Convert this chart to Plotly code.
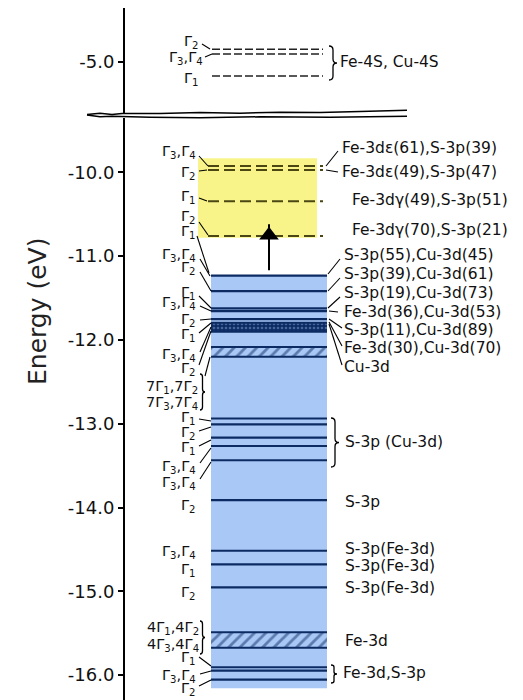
import plotly.graph_objects as go

W, H = 523, 700

# ---------------- data (energies in eV) ----------------
tick_vals_low = [-10, -11, -12, -13, -14, -15, -16]
tick_text_low = ["-10.0", "-11.0", "-12.0", "-13.0", "-14.0", "-15.0", "-16.0"]
tick_vals_top = [-5]
tick_text_top = ["-5.0"]

# Fe-4S, Cu-4S levels (dashed, upper panel)
top_levels = [-4.852, -4.908, -5.171]
# highlighted (yellow) unoccupied levels, dashed
yellow_levels = [-9.924, -9.972, -10.344, -10.760]
yellow_band = [-9.832, -10.780]
# occupied levels (blue block), solid
blue_levels = [-11.233, -11.419, -11.624, -11.656, -11.751,
               -12.938, -13.008, -13.165, -13.266, -13.436, -13.912,
               -14.516, -14.679, -14.953,
               -15.906, -15.947, -16.053]
blue_band = [-11.226, -16.156]
dense_band = [-11.795, -11.902]
hatch_bottoms = [-12.201, -15.673]
hatch_tops = [-12.085, -15.489]
arrow_from = -11.17
arrow_to = -10.78

right_top = ["Fe-4S, Cu-4S"]
right_yellow = ["Fe-3dε(61),S-3p(39)", "Fe-3dε(49),S-3p(47)",
                "Fe-3dγ(49),S-3p(51)", "Fe-3dγ(70),S-3p(21)"]
right_blue = ["S-3p(55),Cu-3d(45)", "S-3p(39),Cu-3d(61)", "S-3p(19),Cu-3d(73)",
              "Fe-3d(36),Cu-3d(53)", "S-3p(11),Cu-3d(89)", "Fe-3d(30),Cu-3d(70)",
              "Cu-3d"]
right_low = ["S-3p (Cu-3d)", "S-3p", "S-3p(Fe-3d)", "S-3p(Fe-3d)", "S-3p(Fe-3d)",
             "Fe-3d", "Fe-3d,S-3p"]

G = lambda s: s.replace("Γ1", "Γ<sub>1</sub>").replace("Γ2", "Γ<sub>2</sub>") \
               .replace("Γ3", "Γ<sub>3</sub>").replace("Γ4", "Γ<sub>4</sub>")
left_top = ["Γ2", "Γ3,Γ4", "Γ1"]
left_main = ["Γ3,Γ4", "Γ2", "Γ1", "Γ2", "Γ1",
             "Γ3,Γ4", "Γ2", "Γ1", "Γ3,Γ4", "Γ2", "Γ1", "Γ3,Γ4", "Γ2",
             "7Γ1,7Γ2", "7Γ3,7Γ4",
             "Γ1", "Γ2", "Γ1", "Γ3,Γ4", "Γ3,Γ4", "Γ2",
             "Γ3,Γ4", "Γ1", "Γ2", "4Γ1,4Γ2", "4Γ3,4Γ4",
             "Γ1", "Γ3,Γ4", "Γ2"]

# ---------------- layout helpers (pixel rows -> paper) ----------------
def P(ypx):
    return 1 - ypx / H

NAVY = "#0d2b63"
BLUE = "#a9c8f6"
YELLOW = "#f8f48a"
OLIVE = "#4a4714"
FONT = "DejaVu Sans"

fig = go.Figure()

def hlines(levels, x0, x1, yaxis, color, width, dash=None):
    xs, ys = [], []
    for e in levels:
        xs += [x0, x1, None]
        ys += [e, e, None]
    fig.add_trace(go.Scatter(x=xs, y=ys, mode="lines", yaxis=yaxis,
                             line=dict(color=color, width=width, dash=dash),
                             hoverinfo="skip"))

# background blocks
shapes = []
shapes.append(dict(type="rect", xref="x", yref="y", x0=198, x1=317,
                   y0=yellow_band[1], y1=yellow_band[0],
                   fillcolor=YELLOW, line=dict(width=0), layer="below"))
shapes.append(dict(type="rect", xref="x", yref="y", x0=211, x1=327,
                   y0=blue_band[1], y1=blue_band[0],
                   fillcolor=BLUE, line=dict(width=0), layer="below"))

# levels
hlines(top_levels, 212, 323, "y2", "#222222", 1.6, "8px,3px")
hlines(yellow_levels, 208, 323, "y", OLIVE, 2, "11px,5px")
hlines(blue_levels, 211, 327, "y", NAVY, 2.2)

# dense band and hatched bands
fig.add_trace(go.Bar(x=[269], y=[dense_band[0] - dense_band[1]], base=[dense_band[1]],
                     width=[116], yaxis="y",
                     marker=dict(color=NAVY, line=dict(width=0),
                                 pattern=dict(shape=".", fgcolor="#7f9fd8", bgcolor=NAVY,
                                              size=4, solidity=0.35)),
                     hoverinfo="skip"))
fig.add_trace(go.Bar(x=[269] * len(hatch_tops),
                     y=[t - b for t, b in zip(hatch_tops, hatch_bottoms)],
                     base=hatch_bottoms, width=[116] * len(hatch_tops), yaxis="y",
                     marker=dict(color=BLUE, line=dict(width=0),
                                 pattern=dict(shape="/", fgcolor=NAVY, bgcolor=BLUE,
                                              size=8, solidity=0.35)),
                     hoverinfo="skip"))
hlines(dense_band + hatch_tops + hatch_bottoms, 211, 327, "y", NAVY, 2)

# arrow (excitation)
fig.add_trace(go.Scatter(x=[269, 269], y=[arrow_from, arrow_to + 0.16], mode="lines",
                         yaxis="y", line=dict(color="black", width=2), hoverinfo="skip"))
fig.add_trace(go.Scatter(x=[269], y=[arrow_to + 0.03], mode="markers", yaxis="y",
                         marker=dict(symbol="triangle-up", size=17, color="black"),
                         hoverinfo="skip"))

# axis break (wavy double line)
def poly(pts):
    return "M " + " L ".join(f"{x},{P(y)}" for x, y in pts)

up = [(87, 114.5), (100, 113.2), (112, 114.6), (122, 113.4), (160, 113.6), (200, 112.6),
      (240, 113.2), (280, 112.2), (320, 112.6), (360, 111.6), (407, 110.2)]
lo = [(87, 115), (100, 116.8), (112, 116.2), (150, 117.2), (200, 117.8), (260, 116.8),
      (330, 117.3), (407, 116.2)]
for pts in (up, lo):
    shapes.append(dict(type="path", xref="x", yref="paper", path=poly(pts),
                       line=dict(color="black", width=1.5)))

# leaders
def seg(x0, y0, x1, y1, w=1.1):
    shapes.append(dict(type="line", xref="x", yref="paper", x0=x0, x1=x1,
                       y0=P(y0), y1=P(y1), line=dict(color="black", width=w)))

leaders = [(202, 44, 210, 49), (205, 57, 212, 54),
           (199, 156, 208, 166), (199, 171, 207, 170), (199, 198, 207, 201),
           (199, 222, 208, 235), (197, 236, 209, 273),
           (200, 259, 210, 276), (200, 272, 211, 291), (199, 296, 211, 308),
           (200, 306, 211, 311), (200, 320, 211, 319), (199, 333, 211, 323),
           (200, 352, 211, 327), (199, 365, 211, 331), (205, 376, 210, 357),
           (199, 419, 211, 421), (199, 431, 211, 427), (199, 446, 211, 440),
           (200, 463, 211, 448), (200, 479, 211, 462),
           (199, 657, 211, 666), (200, 674, 211, 671), (199, 686, 211, 680),
           (338, 151, 326, 166), (338, 172, 326, 170),
           (340, 259, 328, 274), (340, 278, 328, 291), (340, 297, 328, 308),
           (338, 312, 329, 311), (342, 328, 329, 319), (342, 346, 329, 322),
           (342, 365, 329, 324)]
for l in leaders:
    seg(*l)

def brace(x, y0, y1, w=4, r=4):
    ym = (y0 + y1) / 2
    pts = (f"M {x},{P(y0)} Q {x + w},{P(y0)} {x + w},{P(y0 + r)} "
           f"L {x + w},{P(ym - r)} Q {x + w},{P(ym)} {x + 2 * w},{P(ym)} "
           f"Q {x + w},{P(ym)} {x + w},{P(ym + r)} L {x + w},{P(y1 - r)} "
           f"Q {x + w},{P(y1)} {x},{P(y1)}")
    shapes.append(dict(type="path", xref="x", yref="paper", path=pts,
                       line=dict(color="black", width=1.3)))

brace(329, 46, 80)
brace(331, 418, 467)
brace(331, 665, 683, w=3, r=2)
brace(200, 621, 654, w=2.5, r=3)
brace(200, 374, 410, w=2.5, r=3)

# ---------------- text ----------------
ann = []
def txt(s, x, ypx, anchor="left", size=15.5):
    ann.append(dict(text=s, x=x, y=P(ypx), xref="x", yref="paper", showarrow=False,
                    xanchor=anchor, yanchor="middle",
                    font=dict(family=FONT, size=size, color="#111111")))

txt(right_top[0], 338, 62)
for s, x, y in zip(right_yellow, [340, 340, 350, 350], [148, 172, 200, 230]):
    txt(s, x, y)
for s, y in zip(right_blue, [255, 274, 293, 312, 330, 348, 367]):
    txt(s, 342, y)
for s, x, y in zip(right_low, [343, 343, 343, 343, 343, 343, 341],
                   [442, 502, 549, 566, 588, 641, 673]):
    txt(s, x, y)

for s, x, y in zip(left_top, [201, 205, 201], [42, 58, 79]):
    txt(G(s), x, y, "right", 14.5)
left_y = [152, 173, 197, 217, 232,
          255, 268, 293, 303, 320, 335, 355, 369,
          387, 403,
          418, 433, 448, 467, 483, 506,
          552, 570, 593, 628, 645,
          658, 676, 689]
left_x = [198] * 13 + [200, 200] + [198] * 9 + [201, 201] + [198] * 3
for s, x, y in zip(left_main, left_x, left_y):
    txt(G(s), x, y, "right", 14.5)

ann.append(dict(text="Energy (eV)", x=37, y=P(312), xref="x", yref="paper",
                showarrow=False, textangle=-90, xanchor="center", yanchor="middle",
                font=dict(family=FONT, size=25, color="#222222")))

axis_common = dict(anchor="free", position=124 / W, showline=True, linecolor="black",
                   linewidth=2, ticks="outside", ticklen=5, tickwidth=1.5,
                   tickcolor="black", showgrid=False, zeroline=False,
                   tickfont=dict(family=FONT, size=18, color="#111111"), fixedrange=True)

fig.update_layout(
    width=W, height=H, margin=dict(l=0, r=0, t=0, b=0),
    plot_bgcolor="white", paper_bgcolor="white", showlegend=False,
    barmode="overlay",
    xaxis=dict(range=[0, W], visible=False, fixedrange=True),
    yaxis=dict(domain=[0, 582 / H], range=[-16.297, -9.352],
               tickvals=tick_vals_low, ticktext=tick_text_low, **axis_common),
    yaxis2=dict(domain=[587 / H, 692 / H], range=[-5.612, -4.359],
                tickvals=tick_vals_top, ticktext=tick_text_top, **axis_common),
    shapes=shapes, annotations=ann,
)

fig.write_html("out.html", config={"displayModeBar": False},
               post_script="document.body.style.margin='0';document.body.style.overflow='hidden';")
